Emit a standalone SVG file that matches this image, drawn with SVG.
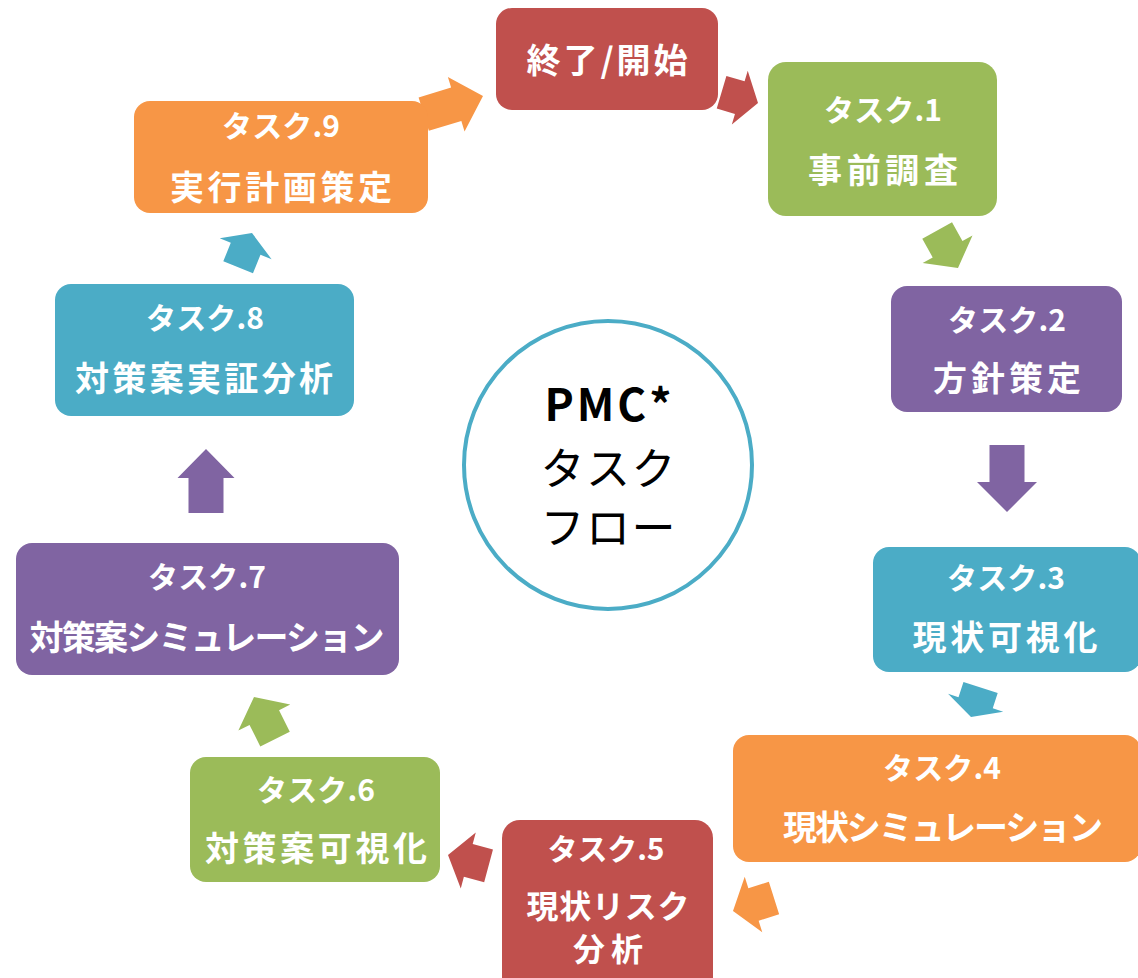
<svg xmlns="http://www.w3.org/2000/svg" width="1138" height="978" viewBox="0 0 1138 978">
<style>
.red{fill:#C0504D}.green{fill:#9BBB59}.purple{fill:#8064A2}.teal{fill:#4BACC6}.orange{fill:#F79646}
.t{font-family:"Noto Sans CJK JP","Noto Sans",sans-serif;font-weight:bold;fill:#FFFFFF;text-anchor:middle}
.s{font-size:30px}.b{font-size:34px}.m{font-size:32px}
.c{font-family:"Noto Sans CJK JP","Noto Sans",sans-serif;fill:#000000;text-anchor:middle;font-size:44px}
</style>
<rect width="1138" height="978" fill="#FFFFFF"/>
<g id="connectors">
<polygon class="orange" transform="translate(483,96) rotate(-17)" points="0,0 -28,-28.5 -28,-17.5 -62,-17.5 -62,17.5 -28,17.5 -28,28.5"/>
<polygon class="red" transform="translate(758,103) rotate(16.5)" points="0,0 -19,-28 -19,-17 -38,-17 -38,17 -19,17 -19,28"/>
<polygon class="green" transform="translate(958,268) rotate(61)" points="0,0 -21.5,-28.5 -21.5,-17 -43,-17 -43,17 -21.5,17 -21.5,28.5"/>
<polygon class="purple" transform="translate(1007,512) rotate(90)" points="0,0 -30,-30 -30,-17.5 -67,-17.5 -67,17.5 -30,17.5 -30,30"/>
<polygon class="teal" transform="translate(971,717) rotate(108)" points="0,0 -15,-29 -15,-18 -31,-18 -31,18 -15,18 -15,29"/>
<polygon class="orange" transform="translate(733,911) rotate(162.4)" points="0,0 -21.5,-29 -21.5,-17 -43,-17 -43,17 -21.5,17 -21.5,29"/>
<polygon class="red" transform="translate(448,855) rotate(195)" points="0,0 -21,-29 -21,-17 -42,-17 -42,17 -21,17 -21,29"/>
<polygon class="green" transform="translate(254,697) rotate(243.4)" points="0,0 -23,-29 -23,-16.5 -47,-16.5 -47,16.5 -23,16.5 -23,29"/>
<polygon class="purple" transform="translate(206,449) rotate(-90)" points="0,0 -29,-28.5 -29,-17.5 -64,-17.5 -64,17.5 -29,17.5 -29,28.5"/>
<polygon class="teal" transform="translate(252,233) rotate(-68)" points="0,0 -17,-28 -17,-16 -37,-16 -37,16 -17,16 -17,28"/>
</g>
<g id="node-start">
<rect class="red" x="496" y="8" width="222" height="102" rx="16"/>
<text class="t b" x="607" y="73" textLength="161" lengthAdjust="spacing">終了/開始</text>
</g>
<g id="node-task1">
<rect class="green" x="768" y="62" width="229" height="154" rx="18"/>
<text class="t s" x="883" y="121" textLength="118" lengthAdjust="spacing">タスク.1</text>
<text class="t b" x="883" y="183" textLength="150" lengthAdjust="spacing">事前調査</text>
</g>
<g id="node-task2">
<rect class="purple" x="891" y="286" width="231" height="126" rx="16"/>
<text class="t s" x="1007" y="331" textLength="118" lengthAdjust="spacing">タスク.2</text>
<text class="t b" x="1007" y="391" textLength="148" lengthAdjust="spacing">方針策定</text>
</g>
<g id="node-task3">
<rect class="teal" x="873" y="547" width="268" height="125" rx="16"/>
<text class="t s" x="1006" y="589" textLength="118" lengthAdjust="spacing">タスク.3</text>
<text class="t b" x="1005" y="650" textLength="185" lengthAdjust="spacing">現状可視化</text>
</g>
<g id="node-task4">
<rect class="orange" x="733" y="735" width="408" height="127" rx="16"/>
<text class="t s" x="942" y="779" textLength="118" lengthAdjust="spacing">タスク.4</text>
<text class="t b" x="943" y="840" textLength="320" lengthAdjust="spacing">現状シミュレーション</text>
</g>
<g id="node-task5">
<rect class="red" x="502" y="820" width="211" height="175" rx="18"/>
<text class="t s" x="606" y="860" textLength="117" lengthAdjust="spacing">タスク.5</text>
<text class="t m" x="608" y="918" textLength="163" lengthAdjust="spacing">現状リスク</text>
<text class="t m" x="608" y="961" textLength="70" lengthAdjust="spacing">分析</text>
</g>
<g id="node-task6">
<rect class="green" x="190" y="757" width="250" height="125" rx="16"/>
<text class="t s" x="316" y="801" textLength="118" lengthAdjust="spacing">タスク.6</text>
<text class="t b" x="316" y="861" textLength="222" lengthAdjust="spacing">対策案可視化</text>
</g>
<g id="node-task7">
<rect class="purple" x="16" y="543" width="383" height="132" rx="16"/>
<text class="t s" x="207" y="588" textLength="118" lengthAdjust="spacing">タスク.7</text>
<text class="t b" x="207" y="650" textLength="355" lengthAdjust="spacing">対策案シミュレーション</text>
</g>
<g id="node-task8">
<rect class="teal" x="55" y="284" width="299" height="132" rx="16"/>
<text class="t s" x="205" y="329" textLength="118" lengthAdjust="spacing">タスク.8</text>
<text class="t b" x="204" y="391" textLength="258" lengthAdjust="spacing">対策案実証分析</text>
</g>
<g id="node-task9">
<rect class="orange" x="134" y="101" width="294" height="112" rx="16"/>
<text class="t s" x="281" y="137" textLength="118" lengthAdjust="spacing">タスク.9</text>
<text class="t b" x="281" y="200" textLength="222" lengthAdjust="spacing">実行計画策定</text>
</g>
<g id="node-center">
<circle cx="608" cy="465" r="144" fill="#FFFFFF" stroke="#4BACC6" stroke-width="4"/>
<text class="c" x="608" y="421" font-weight="bold" font-size="46" textLength="127" lengthAdjust="spacing">PMC*</text>
<text class="c" x="608" y="485" textLength="135" lengthAdjust="spacing">タスク</text>
<text class="c" x="608" y="544" textLength="135" lengthAdjust="spacing">フロー</text>
</g>
</svg>
